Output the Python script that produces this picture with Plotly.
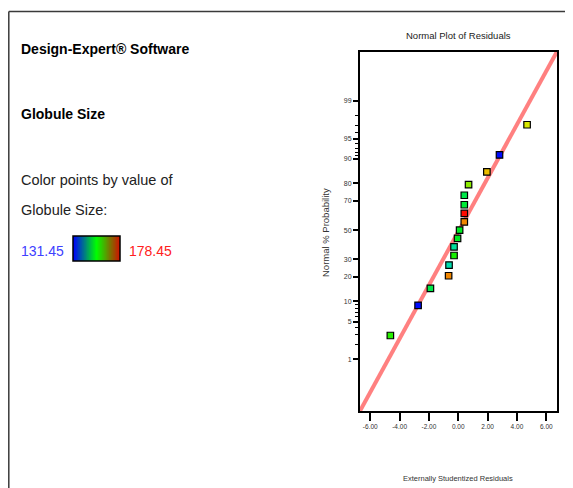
import numpy as np
import plotly.graph_objects as go
from statistics import NormalDist

# ---- data ----
RESIDUALS = [-4.63, -2.74, -1.90, -0.66, -0.63, -0.29, -0.29, -0.05, 0.09,
             0.41, 0.41, 0.41, 0.41, 0.70, 1.95, 2.81, 4.69]
PROB_PCT = [2.9, 8.8, 14.7, 20.6, 26.5, 32.4, 38.2, 44.1, 50.0,
            55.9, 61.8, 67.6, 73.5, 79.4, 85.3, 91.2, 97.1]
GLOBULE = [157, 132, 151, 172, 145.5, 156, 146.5, 153, 153,
           172, 178, 152, 151, 162, 169, 132, 166]
GLOB_MIN, GLOB_MAX = 131.45, 178.45
Y_TICK_PCT = [1, 5, 10, 20, 30, 50, 70, 80, 90, 95, 99]
Y_MINOR_PCT = [2, 3, 4, 6, 7, 8, 9, 91, 92, 93, 94, 96, 97, 98]
X_TICKS = [-6, -4, -2, 0, 2, 4, 6]
X_TICK_LABELS = ["-6.00", "-4.00", "-2.00", "0.00", "2.00", "4.00", "6.00"]
X_RANGE = [-6.70, 6.73]
Y_RANGE = [-3.254, 3.214]

# page body has an 8px margin: the figure sits at (8, 8) in the window
OFF = 8
W, H = 573 - OFF, 488 - OFF
ND = NormalDist()
z = lambda p: ND.inv_cdf(p / 100.0)

FONT = "Liberation Sans, Arial, sans-serif"

POINT_SCALE = [[0, "#0000ff"], [0.25, "#00d8d8"], [0.5, "#00f000"],
               [0.75, "#e8e800"], [0.87, "#f08000"], [1, "#ff0000"]]
BAR_SCALE = [[0, "#0000ff"], [0.5, "#00ff00"], [1, "#d01000"]]

def px_x(p):
    return (p - OFF) / W

def px_y(p):
    return 1 - (p - OFF) / H

fig = go.Figure()

# reference line corner to corner
fig.add_trace(go.Scatter(x=X_RANGE, y=Y_RANGE, mode="lines",
                         line=dict(color="#ff8080", width=4),
                         hoverinfo="skip", showlegend=False))

fig.add_trace(go.Scatter(
    x=RESIDUALS, y=[z(p) for p in PROB_PCT], mode="markers",
    marker=dict(symbol="square", size=6.5, color=GLOBULE, colorscale=POINT_SCALE,
                cmin=GLOB_MIN, cmax=GLOB_MAX, showscale=False,
                line=dict(color="black", width=1.2)),
    showlegend=False))

# gradient bar in legend
fig.add_trace(go.Heatmap(
    z=[list(np.linspace(GLOB_MIN, GLOB_MAX, 120))],
    colorscale=BAR_SCALE, showscale=False, xaxis="x2", yaxis="y2",
    hoverinfo="skip"))

fig.update_layout(
    width=W, height=H, autosize=False,
    margin=dict(l=0, r=0, t=0, b=0),
    paper_bgcolor="white", plot_bgcolor="white",
    xaxis=dict(domain=[px_x(360), px_x(557)], range=X_RANGE,
               tickvals=X_TICKS, ticktext=X_TICK_LABELS,
               ticks="outside", ticklen=8, tickwidth=1.5, tickcolor="black",
               showline=True, linecolor="black", linewidth=2, mirror=True,
               showgrid=False, zeroline=False,
               tickfont=dict(family=FONT, size=6.5, color="#333")),
    yaxis=dict(domain=[px_y(411), px_y(51.5)], range=Y_RANGE,
               tickvals=[z(p) for p in Y_TICK_PCT],
               ticktext=[str(p) for p in Y_TICK_PCT],
               ticks="outside", ticklen=5, tickwidth=1.5, tickcolor="black",
               minor=dict(tickvals=[z(p) for p in Y_MINOR_PCT], ticks="outside",
                          ticklen=3, tickwidth=1, tickcolor="black"),
               showline=True, linecolor="black", linewidth=2, mirror=True,
               showgrid=False, zeroline=False,
               tickfont=dict(family=FONT, size=7, color="#333")),
    xaxis2=dict(domain=[px_x(73), px_x(120)], visible=False, anchor="y2"),
    yaxis2=dict(domain=[px_y(261), px_y(236)], visible=False, anchor="x2"),
)

shapes = [
    dict(type="line", xref="paper", yref="paper", x0=px_x(8.8), x1=1,
         y0=px_y(11.5), y1=px_y(11.5), line=dict(color="#3a3a3a", width=1.5)),
    dict(type="line", xref="paper", yref="paper", x0=px_x(8.8), x1=px_x(8.8),
         y0=px_y(11.5), y1=0, line=dict(color="#3a3a3a", width=1.5)),
    dict(type="rect", xref="paper", yref="paper", x0=px_x(73), x1=px_x(120),
         y0=px_y(261), y1=px_y(236), line=dict(color="black", width=1.5)),
]
fig.update_layout(shapes=shapes)

def ann(text, x, y, size, color="black", bold=False, xanchor="left", angle=0):
    if bold:
        text = "<b>" + text + "</b>"
    fig.add_annotation(text=text, x=px_x(x), y=px_y(y), xref="paper", yref="paper",
                       xanchor=xanchor, yanchor="middle", showarrow=False,
                       textangle=angle, font=dict(family=FONT, size=size, color=color))

ann("Design-Expert® Software", 19, 49, 14, bold=True)
ann("Globule Size", 19, 114, 14, bold=True)
ann("Color points by value of", 19, 180, 14.5, color="#222")
ann("Globule Size:", 19, 210, 14.5, color="#222")
ann("131.45", 66, 251, 14, color="#4040ff", xanchor="right")
ann("178.45", 127, 251, 14, color="#ff2020")
ann("Normal Plot of Residuals", 458, 35, 9.5, color="#222", xanchor="center")
ann("Normal % Probability", 325, 233, 9.5, color="#333", xanchor="center", angle=-90)
ann("Externally Studentized Residuals", 458, 478, 7.5, color="#333", xanchor="center")

fig.write_html("out.html")
